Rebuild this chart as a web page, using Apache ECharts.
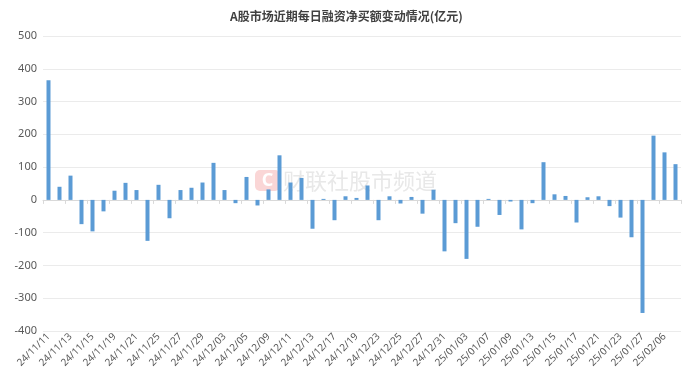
<!DOCTYPE html>
<html><head><meta charset="utf-8">
<script src="https://cdn.jsdelivr.net/npm/echarts@6/dist/echarts.min.js"></script>
<style>html,body{margin:0;padding:0;background:#fff}#c{width:693px;height:389px}</style>
</head><body><div id="c"></div>
<script>
const categories = ["24/11/11","24/11/12","24/11/13","24/11/14","24/11/15","24/11/18","24/11/19","24/11/20","24/11/21","24/11/22","24/11/25","24/11/26","24/11/27","24/11/28","24/11/29","24/12/02","24/12/03","24/12/04","24/12/05","24/12/06","24/12/09","24/12/10","24/12/11","24/12/12","24/12/13","24/12/16","24/12/17","24/12/18","24/12/19","24/12/20","24/12/23","24/12/24","24/12/25","24/12/26","24/12/27","24/12/30","24/12/31","25/01/02","25/01/03","25/01/06","25/01/07","25/01/08","25/01/09","25/01/10","25/01/13","25/01/14","25/01/15","25/01/16","25/01/17","25/01/20","25/01/21","25/01/22","25/01/23","25/01/24","25/01/27","25/02/05","25/02/06","25/02/07"];
const netBuy = [365,40,74,-74,-96,-35,28,52,30,-125,46,-56,30,37,53,113,30,-10,70,-17,32,136,53,67,-88,3,-62,11,6,44,-62,11,-11,9,-42,31,-157,-71,-180,-82,3,-46,-5,-90,-10,115,17,12,-69,8,11,-19,-54,-114,-345,196,145,109];
const yTicks = {min:-400, max:500, interval:100};
const titleText = "A股市场近期每日融资净买额变动情况(亿元)";
const watermark = "财联社股市频道";

const chart = echarts.init(document.getElementById('c'));
chart.setOption({
  animation:false,
  title:{text:titleText,left:'center',top:5,textStyle:{fontFamily:'Noto Sans CJK SC',fontSize:12,fontWeight:'bold',color:'#404040'}},
  grid:{left:43,right:12,top:36,bottom:58,containLabel:false},
  xAxis:{type:'category',data:categories,
    axisLine:{onZero:true,lineStyle:{color:'#d9d9d9'}},
    axisTick:{show:true,length:4,lineStyle:{color:'#d9d9d9'}},
    axisLabel:{interval:1,rotate:45,fontSize:10,color:'#595959',fontFamily:'Noto Sans',margin:4}},
  yAxis:{type:'value',min:yTicks.min,max:yTicks.max,interval:yTicks.interval,
    axisLine:{show:false},axisTick:{show:false},
    splitLine:{lineStyle:{color:'#ebebeb'}},
    axisLabel:{fontSize:11,color:'#595959',fontFamily:'Noto Sans',margin:6}},
  graphic:[
    {type:'group',left:255,top:170,z:-1,children:[
      {type:'rect',shape:{x:0,y:0,width:25,height:21,r:5},style:{fill:'#fad6d6'}},
      {type:'text',style:{x:12.5,y:10.5,text:'C',fill:'#ffffff',font:'bold 18px Noto Sans',align:'center',verticalAlign:'middle'}},
      {type:'text',style:{x:28,y:11,text:watermark,fill:'#e8e8e8',font:'22px Noto Sans CJK SC',verticalAlign:'middle'}}
    ]}
  ],
  series:[{type:'bar',data:netBuy,barWidth:4,itemStyle:{color:'#5b9bd5'}}]
});
</script></body></html>
